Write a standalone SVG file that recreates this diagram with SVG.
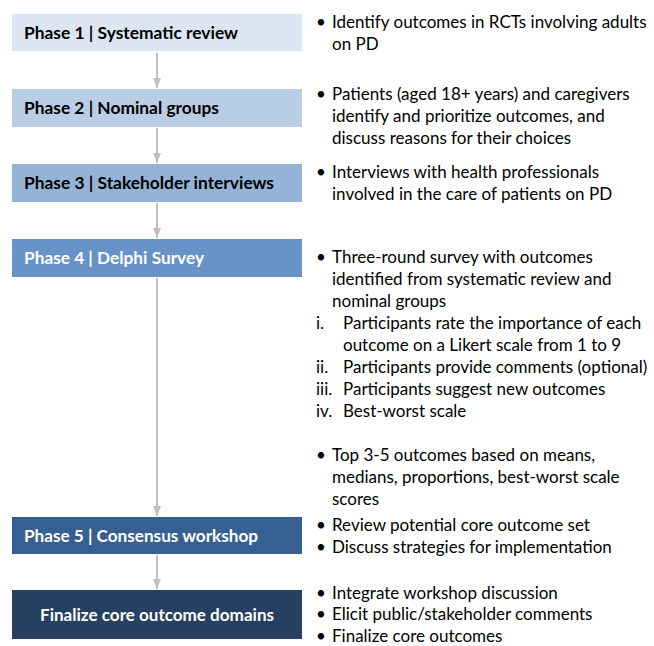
<svg xmlns="http://www.w3.org/2000/svg" width="654" height="646" viewBox="0 0 654 646">
<style>
.lbl{font-family:Lato,"Open Sans","Liberation Sans",sans-serif;font-weight:bold;font-size:17px}
.dk{fill:#000}
.wt{fill:#fff}
.txt{font-family:Lato,"Open Sans","Liberation Sans",sans-serif;font-size:17px;fill:#000}
.con{stroke:#bfbfbf;stroke-width:2;fill:none}
</style>
<defs>
<marker id="ah" viewBox="0 0 10 8" refX="10" refY="4" markerWidth="10" markerHeight="8" markerUnits="userSpaceOnUse" orient="auto">
<path d="M0,0 L10,4 L0,8 Z" fill="#bfbfbf"/>
</marker>
</defs>
<rect width="654" height="646" fill="#fff"/>
<g id="connectors">
<line class="con" x1="157" y1="53" x2="157" y2="88" marker-end="url(#ah)"/>
<line class="con" x1="157" y1="128" x2="157" y2="163" marker-end="url(#ah)"/>
<line class="con" x1="157" y1="203" x2="157" y2="238" marker-end="url(#ah)"/>
<line class="con" x1="157" y1="278" x2="157" y2="516" marker-end="url(#ah)"/>
<line class="con" x1="157" y1="555" x2="157" y2="589" marker-end="url(#ah)"/>
</g>
<g id="phase1">
<rect x="12" y="14" width="290" height="37" fill="#dce6f2"/>
<text class="lbl dk" x="24" y="39" textLength="214" lengthAdjust="spacingAndGlyphs">Phase 1 | Systematic review</text>
</g>
<g id="phase2">
<rect x="12" y="89" width="290" height="38" fill="#b9cde5"/>
<text class="lbl dk" x="24" y="114" textLength="195" lengthAdjust="spacingAndGlyphs">Phase 2 | Nominal groups</text>
</g>
<g id="phase3">
<rect x="12" y="164" width="290" height="38" fill="#95b3d7"/>
<text class="lbl dk" x="24" y="189" textLength="250" lengthAdjust="spacingAndGlyphs">Phase 3 | Stakeholder interviews</text>
</g>
<g id="phase4">
<rect x="12" y="239" width="290" height="38" fill="#6793c6"/>
<text class="lbl wt" x="24" y="264" textLength="180" lengthAdjust="spacingAndGlyphs">Phase 4 | Delphi Survey</text>
</g>
<g id="phase5">
<rect x="12" y="517" width="290" height="37" fill="#376092"/>
<text class="lbl wt" x="24" y="542" textLength="234" lengthAdjust="spacingAndGlyphs">Phase 5 | Consensus workshop</text>
</g>
<g id="finalize">
<rect x="12" y="590" width="290" height="49" fill="#254061"/>
<text class="lbl wt" x="157" y="621" text-anchor="middle" textLength="234" lengthAdjust="spacingAndGlyphs">Finalize core outcome domains</text>
</g>
<g id="notes" class="txt">
<text x="316" y="28">•</text><text x="332" y="28">Identify outcomes in RCTs involving adults</text>
<text x="332" y="50">on PD</text>
<text x="316" y="100">•</text><text x="332" y="100">Patients (aged 18+ years) and caregivers</text>
<text x="332" y="122">identify and prioritize outcomes, and</text>
<text x="332" y="144">discuss reasons for their choices</text>
<text x="316" y="178">•</text><text x="332" y="178">Interviews with health professionals</text>
<text x="332" y="200">involved in the care of patients on PD</text>
<text x="316" y="263">•</text><text x="332" y="263">Three-round survey with outcomes</text>
<text x="332" y="285">identified from systematic review and</text>
<text x="332" y="307">nominal groups</text>
<text x="316" y="329">i.</text><text x="343" y="329">Participants rate the importance of each</text>
<text x="343" y="351">outcome on a Likert scale from 1 to 9</text>
<text x="316" y="373">ii.</text><text x="343" y="373">Participants provide comments (optional)</text>
<text x="316" y="395">iii.</text><text x="343" y="395">Participants suggest new outcomes</text>
<text x="316" y="417">iv.</text><text x="343" y="417">Best-worst scale</text>
<text x="316" y="461">•</text><text x="332" y="461">Top 3-5 outcomes based on means,</text>
<text x="332" y="483">medians, proportions, best-worst scale</text>
<text x="332" y="505">scores</text>
<text x="316" y="531">•</text><text x="332" y="531">Review potential core outcome set</text>
<text x="316" y="553">•</text><text x="332" y="553">Discuss strategies for implementation</text>
<text x="316" y="599">•</text><text x="332" y="599">Integrate workshop discussion</text>
<text x="316" y="620">•</text><text x="332" y="620">Elicit public/stakeholder comments</text>
<text x="316" y="642">•</text><text x="332" y="642">Finalize core outcomes</text>
</g>
</svg>
